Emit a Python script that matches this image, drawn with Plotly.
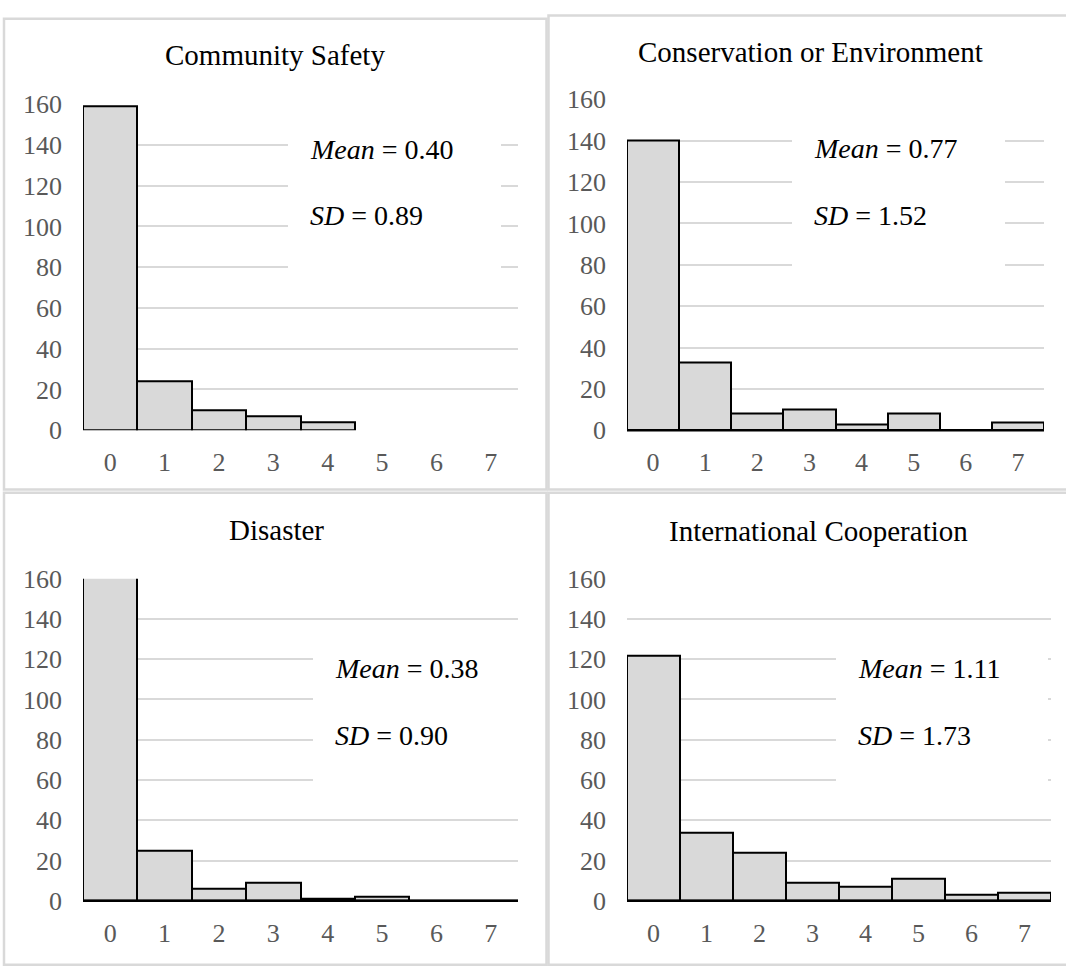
import plotly.graph_objects as go

W, H = 1066, 974

categories = [0, 1, 2, 3, 4, 5, 6, 7]
tick_labels = ["0", "1", "2", "3", "4", "5", "6", "7"]
y_ticks = [0, 20, 40, 60, 80, 100, 120, 140, 160]

titles = ["Community Safety", "Conservation or Environment", "Disaster", "International Cooperation"]

community_safety = [159, 24, 10, 7, 4, None, None, None]
conservation_env = [140, 33, 8, 10, 3, 8, 0, 4]
disaster = [162, 25, 6, 9, 1, 2, 0, 0]
intl_cooperation = [122, 34, 24, 9, 7, 11, 3, 4]

means = ["0.40", "0.77", "0.38", "1.11"]
sds = ["0.89", "1.52", "0.90", "1.73"]

series = [community_safety, conservation_env, disaster, intl_cooperation]


def px(x):
    return x / W


def py(y):
    return 1 - y / H


# pixel layout of each panel: plot x0, x1, y_top(160), y_bottom(0)
plots = [
    (83, 518, 93, 429),
    (627, 1044, 88, 429),
    (83, 518, 582, 914),
    (627, 1051, 582, 914),
]
title_pos = [(275, 42), (810, 39), (276, 532), (818, 533)]
text_pos = [(308, 140, 208), (812, 139, 208), (333, 675, 744), (856, 675, 744)]
white_boxes = [(288, 501, 105, 285), (792, 1005, 100, 285), (313, 520, 640, 810), (836, 1048, 640, 810)]
black_baseline = [False, True, True, True]

SERIF = "Liberation Serif"
GRID = "#d9d9d9"

fig = go.Figure()
layout = dict(
    width=W, height=H,
    margin=dict(l=0, r=0, t=0, b=0),
    paper_bgcolor="white", plot_bgcolor="white",
    showlegend=False, bargap=0,
)
shapes = []
annotations = []

for i, vals in enumerate(series):
    n = i + 1
    xa = "x" if n == 1 else f"x{n}"
    ya = "y" if n == 1 else f"y{n}"
    fig.add_trace(go.Bar(
        x=categories, y=vals, xaxis=xa, yaxis=ya, width=1,
        marker=dict(color="#d9d9d9", line=dict(color="black", width=2)),
        hoverinfo="skip",
    ))
    x0, x1, yt, yb = plots[i]
    layout["xaxis" if n == 1 else f"xaxis{n}"] = dict(
        domain=[px(x0), px(x1)], anchor=ya, range=[-0.5, 7.5],
        tickvals=categories, ticktext=tick_labels, showgrid=False, zeroline=False,
        showline=False, ticks="", ticklabelstandoff=14,
        tickfont=dict(family=SERIF, size=26, color="#595959"),
        fixedrange=True,
    )
    layout["yaxis" if n == 1 else f"yaxis{n}"] = dict(
        domain=[py(yb), py(yt)], anchor=xa, range=[0, 160],
        tickvals=y_ticks, showgrid=True, gridcolor=GRID, gridwidth=2,
        zeroline=False, showline=False, ticks="", ticklabelstandoff=20,
        tickfont=dict(family=SERIF, size=26, color="#595959"),
        fixedrange=True,
    )
    if black_baseline[i]:
        shapes.append(dict(type="line", xref=f"{xa} domain", yref=f"{ya} domain",
                           x0=0, x1=1, y0=0, y1=0,
                           line=dict(color="black", width=2.5), layer="above"))
    # white box interrupting gridlines behind the statistics text
    bx0, bx1, by0, by1 = white_boxes[i]
    shapes.append(dict(type="rect", xref="paper", yref="paper",
                       x0=px(bx0), x1=px(bx1), y0=py(by1), y1=py(by0),
                       fillcolor="white", line=dict(width=0), layer="above"))
    tx, ty = title_pos[i]
    annotations.append(dict(text=titles[i], xref="paper", yref="paper", x=px(tx), y=py(ty),
                            xanchor="center", yanchor="middle", showarrow=False,
                            font=dict(family=SERIF, size=29, color="black")))
    lx, my, sy = text_pos[i]
    annotations.append(dict(text=f"<i>Mean</i> = {means[i]}", xref="paper", yref="paper",
                            x=px(lx), y=py(my), xanchor="left", yanchor="middle", showarrow=False,
                            font=dict(family=SERIF, size=28, color="black")))
    annotations.append(dict(text=f"<i>SD</i> = {sds[i]}", xref="paper", yref="paper",
                            x=px(lx), y=py(sy), xanchor="left", yanchor="middle", showarrow=False,
                            font=dict(family=SERIF, size=28, color="black")))

# panel borders
border = dict(color=GRID, width=2.5)
for (x0, x1, y0, y1) in [(4, 546.5, 5, 490), (548.5, 1070, 1.5, 490), (4, 546.5, 493.5, 980), (548.5, 1070, 493.5, 980)]:
    shapes.append(dict(type="rect", xref="paper", yref="paper",
                       x0=px(x0), x1=px(x1), y0=py(y1), y1=py(y0),
                       line=border, fillcolor="rgba(0,0,0,0)", layer="above"))

layout["shapes"] = shapes
layout["annotations"] = annotations
fig.update_layout(**layout)
fig.write_html(
    "out.html",
    config={"displayModeBar": False},
    post_script="document.body.style.margin='0';document.body.style.overflow='hidden';",
)
